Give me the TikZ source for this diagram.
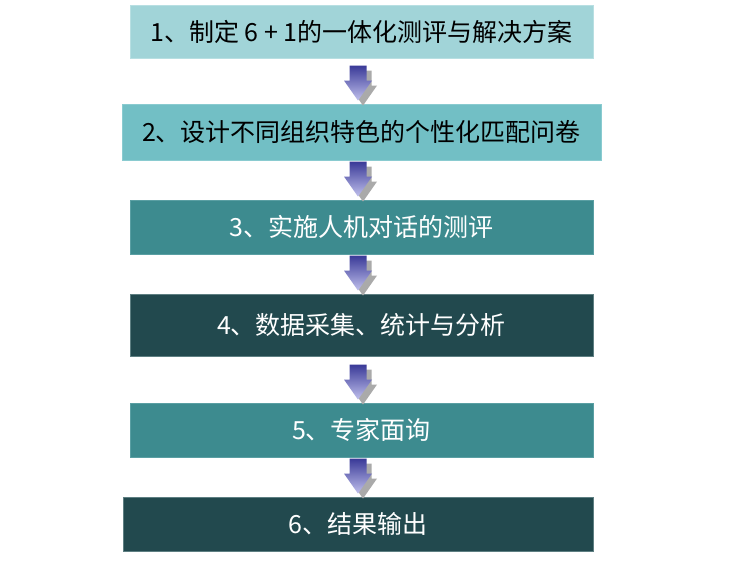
\documentclass[tikz,border=0pt]{standalone}
\usepackage{fontspec}
\setmainfont{Noto Sans CJK SC}
\usetikzlibrary{calc}
\definecolor{cA}{HTML}{A1D4D8}
\definecolor{cB}{HTML}{72BFC5}
\definecolor{cC}{HTML}{3D8B8F}
\definecolor{cD}{HTML}{22494E}
\definecolor{edgeA}{HTML}{B8DFE2}
\definecolor{edgeB}{HTML}{8ACBD0}
\definecolor{edgeC}{HTML}{5A9FA3}
\definecolor{edgeD}{HTML}{5E7F82}
\definecolor{arrTop}{RGB}{58,58,152}
\definecolor{arrBot}{RGB}{192,192,236}
\definecolor{shadowc}{RGB}{170,170,170}
\tikzset{
  stepbox/.style={rectangle, inner sep=0pt, line width=0.8pt,
    font=\fontsize{25}{29}\selectfont},
  pics/downarrow/.style={code={
    \fill[shadowc] (-3.5,5) -- (13.5,5) -- (13.5,20) -- (19,20) -- (5,40) -- (-9,20) -- (-3.5,20) -- cycle;
    \path[top color=arrTop, bottom color=arrBot, shading angle=0]
      (-8.5,0) -- (8.5,0) -- (8.5,15) -- (14,15) -- (0,35) -- (-14,15) -- (-8.5,15) -- cycle;
  }}
}
\begin{document}
\begin{tikzpicture}[x=1pt,y=-1pt]
\useasboundingbox (0,0) rectangle (740,570);
\fill[white] (0,0) rectangle (740,570);
\node[stepbox, fill=cA, draw=edgeA, minimum width=463pt, minimum height=53pt, text=black] (b1) at (361.5,31.5) {1、制定 6 + 1的一体化测评与解决方案};
\node[stepbox, fill=cB, draw=edgeB, minimum width=479pt, minimum height=56pt, text=black] (b2) at (361.5,132) {2、设计不同组织特色的个性化匹配问卷};
\node[stepbox, fill=cC, draw=edgeC, minimum width=463pt, minimum height=54pt, text=white] (b3) at (361.5,227) {3、实施人机对话的测评};
\node[stepbox, fill=cD, draw=edgeD, minimum width=463pt, minimum height=62pt, text=white] (b4) at (361.5,325) {4、数据采集、统计与分析};
\node[stepbox, fill=cC, draw=edgeC, minimum width=463pt, minimum height=54pt, text=white] (b5) at (361.5,430) {5、专家面询};
\node[stepbox, fill=cD, draw=edgeD, minimum width=470pt, minimum height=54pt, text=white] (b6) at (358,524) {6、结果输出};
\coordinate (a1) at ($(358,0)+(0,0|-b2.north)+(0,-38)$);
\coordinate (a2) at ($(358,0)+(0,0|-b3.north)+(0,-38)$);
\coordinate (a3) at ($(358,0)+(0,0|-b4.north)+(0,-38)$);
\coordinate (a4) at ($(358,0)+(0,0|-b5.north)+(0,-38)$);
\coordinate (a5) at ($(358,0)+(0,0|-b6.north)+(0,-38)$);
\foreach \c in {a1,a2,a3,a4,a5} { \pic at (\c) {downarrow}; }
\end{tikzpicture}
\end{document}
